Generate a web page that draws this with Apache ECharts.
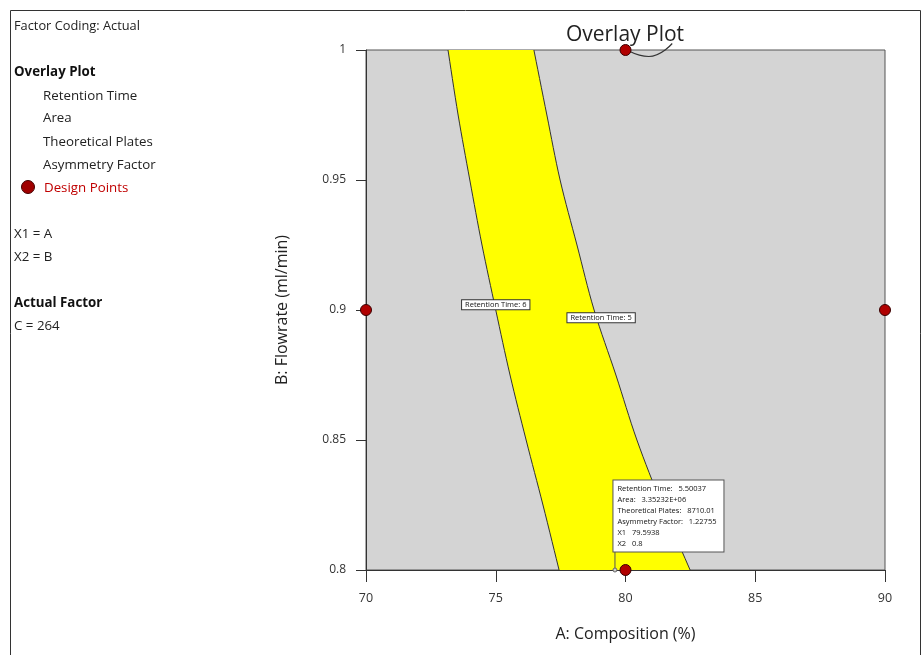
<!DOCTYPE html>
<html>
<head>
<meta charset="utf-8">
<script src="https://cdn.jsdelivr.net/npm/echarts@6/dist/echarts.min.js"></script>
<style>
html,body{margin:0;padding:0;background:#fff;}
#c{width:922px;height:655px;}
</style>
</head>
<body>
<div id="c"></div>
<script>
// ---- data ----
var xTicks = [70, 75, 80, 85, 90];
var yTicks = [0.8, 0.85, 0.9, 0.95, 1];
// Contour: Retention Time = 6 (left edge of yellow region) [A, B]
var rt6 = [[73.16,1.0],[73.55,0.975],[74.0,0.95],[74.47,0.925],[75.0,0.9],[75.55,0.875],[76.17,0.85],[76.82,0.825],[77.44,0.8]];
// Contour: Retention Time = 5 (right edge of yellow region)
var rt5 = [[76.47,1.0],[76.97,0.975],[77.48,0.95],[78.13,0.925],[78.79,0.9],[79.63,0.875],[80.44,0.85],[81.41,0.825],[82.49,0.8]];
var designPoints = [[80,1.0],[70,0.9],[90,0.9],[80,0.8]];
var contourLabels = [[75.0,0.902,'Retention Time: 6'],[79.06,0.897,'Retention Time: 5']];
var flagPoint = [79.5938, 0.8];
var flagTop = 0.8081;
var flagLines = ['Retention Time:   5.50037','Area:   3.35232E+06','Theoretical Plates:   8710.01','Asymmetry Factor:   1.22755','X1   79.5938','X2   0.8'];
var titleArc = [[80.15,0.9995],[80.9,0.9975],[81.8,1.0025]];
var legendTitle = 'Overlay Plot';
var legendItems = ['Retention Time','Area','Theoretical Plates','Asymmetry Factor'];
var infoLines = [['Factor Coding: Actual','normal'],['X1 = A','normal'],['X2 = B','normal'],['Actual Factor','bold'],['C = 264','normal']];

var FONT = '"Open Sans", "Noto Sans", sans-serif';
var FS = '13.3px ';
var chart = echarts.init(document.getElementById('c'));

// smooth a pixel polyline (Catmull-Rom) for drawing only
function smoothPx(pts){
  var out = [];
  for (var i = 0; i < pts.length - 1; i++){
    var p0 = pts[Math.max(i-1,0)], p1 = pts[i], p2 = pts[i+1], p3 = pts[Math.min(i+2, pts.length-1)];
    for (var s = 0; s < 8; s++){
      var t = s/8, t2 = t*t, t3 = t2*t;
      out.push([
        0.5*((2*p1[0]) + (-p0[0]+p2[0])*t + (2*p0[0]-5*p1[0]+4*p2[0]-p3[0])*t2 + (-p0[0]+3*p1[0]-3*p2[0]+p3[0])*t3),
        0.5*((2*p1[1]) + (-p0[1]+p2[1])*t + (2*p0[1]-5*p1[1]+4*p2[1]-p3[1])*t2 + (-p0[1]+3*p1[1]-3*p2[1]+p3[1])*t3)
      ]);
    }
  }
  out.push(pts[pts.length-1]);
  return out;
}

var graphics = [
  {type:'rect', shape:{x:10.5,y:10.5,width:910,height:700}, style:{fill:'none',stroke:'#333',lineWidth:1}, silent:true},
  {type:'text', left:14, top:20, style:{text:infoLines[0][0], font:'12.8px '+FONT, fill:'#222'}},
  {type:'text', left:14, top:66, style:{text:legendTitle, font:'bold '+FS+FONT, fill:'#111'}},
  {type:'circle', shape:{cx:28, cy:187, r:6.5}, style:{fill:'#a00000', stroke:'#400', lineWidth:1}},
  {type:'text', left:44, top:182, style:{text:'Design Points', font:FS+FONT, fill:'#c00000'}},
  {type:'text', left:14, top:228, style:{text:infoLines[1][0], font:FS+FONT, fill:'#222'}},
  {type:'text', left:14, top:251, style:{text:infoLines[2][0], font:FS+FONT, fill:'#222'}},
  {type:'text', left:14, top:297, style:{text:infoLines[3][0], font:'bold '+FS+FONT, fill:'#111'}},
  {type:'text', left:14, top:320, style:{text:infoLines[4][0], font:FS+FONT, fill:'#222'}}
];
var ly = [90, 112, 136, 159];
legendItems.forEach(function(t,i){
  graphics.push({type:'text', left:43, top:ly[i], style:{text:t, font:FS+FONT, fill:'#222'}});
});

chart.setOption({
  animation:false,
  backgroundColor:'#fff',
  title:{text:'Overlay Plot', left:620, top:20, textAlign:'center',
    textStyle:{fontFamily:FONT, fontSize:21, fontWeight:'normal', color:'#222'}},
  grid:{left:366, right:37, top:50, bottom:85, show:true, backgroundColor:'#d4d4d4', borderColor:'#555', borderWidth:1},
  xAxis:{type:'value', min:70, max:90, interval:5,
    name:'A: Composition (%)', nameLocation:'middle', nameGap:56,
    nameTextStyle:{fontFamily:FONT, fontSize:16, color:'#222'},
    axisLine:{lineStyle:{color:'#333'}},
    axisTick:{show:true, length:12, lineStyle:{color:'#333'}},
    axisLabel:{fontFamily:FONT, fontSize:12.5, color:'#333', margin:22},
    splitLine:{show:false}},
  yAxis:{type:'value', min:0.8, max:1, interval:0.05,
    name:'B: Flowrate (ml/min)', nameLocation:'middle', nameGap:76, nameRotate:90,
    nameTextStyle:{fontFamily:FONT, fontSize:16, color:'#222'},
    axisLine:{show:true, lineStyle:{color:'#333'}},
    axisTick:{show:true, length:10, lineStyle:{color:'#333'}},
    axisLabel:{fontFamily:FONT, fontSize:12, color:'#333', margin:20,
      formatter:function(v){return String(+v.toFixed(2));}},
    splitLine:{show:false}},
  graphic:graphics,
  series:[
    {type:'custom', coordinateSystem:'cartesian2d', data:[[75,0.9]], clip:true, silent:true, z:1,
      renderItem:function(params, api){
        var l = smoothPx(rt6.map(function(p){return api.coord(p);}));
        var r = smoothPx(rt5.map(function(p){return api.coord(p);}));
        return {type:'group', children:[
          {type:'polygon', shape:{points:l.concat(r.slice().reverse())}, style:{fill:'#ffff00'}},
          {type:'polyline', shape:{points:l}, style:{stroke:'#333', lineWidth:1, fill:null}},
          {type:'polyline', shape:{points:r}, style:{stroke:'#333', lineWidth:1, fill:null}}
        ]};
      }},
    {type:'line', data:titleArc, smooth:true, symbol:'none', clip:false, lineStyle:{color:'#333', width:1.2}, z:3, silent:true},
    {type:'line', data:[flagPoint,[flagPoint[0],flagTop]], symbol:'none', clip:false, lineStyle:{color:'#555', width:1}, z:4, silent:true},
    {type:'scatter', data:contourLabels.map(function(d){return [d[0],d[1],d[2]];}), symbolSize:1,
      itemStyle:{color:'rgba(0,0,0,0)', opacity:1}, z:5, silent:true,
      label:{show:true, position:'inside', formatter:function(p){return p.data[2];},
        fontFamily:FONT, fontSize:7.5, color:'#111', backgroundColor:'#fff', borderColor:'#333', borderWidth:1, padding:[1,3,0,3]}},
    {type:'scatter', data:[flagPoint], symbol:'circle', symbolSize:4, clip:false,
      itemStyle:{color:'#ccc', borderColor:'#666', borderWidth:1, opacity:1}, z:6, silent:true,
      label:{show:true, position:[1,-87], align:'left', verticalAlign:'top',
        formatter:flagLines.join('\n'), fontFamily:FONT, fontSize:7.5, lineHeight:11, color:'#111',
        backgroundColor:'#fff', borderColor:'#555', borderWidth:1, padding:[3,4,2,4], width:102}},
    {type:'scatter', data:designPoints, symbol:'circle', symbolSize:11, clip:false,
      itemStyle:{color:'#b00000', borderColor:'#3a0000', borderWidth:1, opacity:1}, z:7, silent:true}
  ]
});
</script>
</body>
</html>
